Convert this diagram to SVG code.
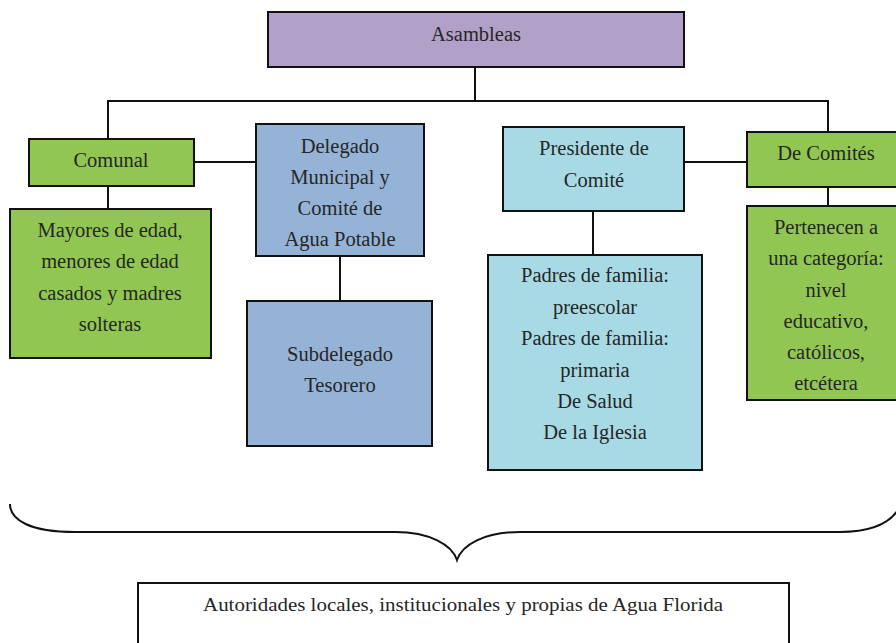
<svg xmlns="http://www.w3.org/2000/svg" width="896" height="643" viewBox="0 0 896 643" font-family="'Liberation Serif', 'DejaVu Serif', serif">
<style>
.box{stroke:#111;stroke-width:2}
.purple{fill:#b1a0c7}
.green{fill:#92c652}
.blue{fill:#95b3d7}
.lblue{fill:#a8dae6}
text{font-family:'Liberation Serif', serif}
.t{font-size:20.5px;fill:#262626;text-anchor:middle}
.con{stroke:#111;stroke-width:2;fill:none}
</style>
<defs>
<clipPath id="clipDel"><rect x="257" y="125" width="166" height="130"/></clipPath>
</defs>
<g id="connectors">
<line class="con" x1="475" y1="67" x2="475" y2="101"/>
<polyline class="con" points="108,139 108,101 828,101 828,132"/>
<line class="con" x1="194" y1="162" x2="256" y2="162"/>
<line class="con" x1="108" y1="186" x2="108" y2="209"/>
<line class="con" x1="340" y1="256" x2="340" y2="301"/>
<line class="con" x1="684" y1="162" x2="747" y2="162"/>
<line class="con" x1="593" y1="211" x2="593" y2="255"/>
<line class="con" x1="828" y1="187" x2="828" y2="206"/>
</g>
<g id="asambleas">
<rect class="box purple" x="268" y="12" width="416" height="55"/>
<text class="t" x="476" y="41" font-family="Liberation Serif">Asambleas</text>
</g>
<g id="comunal">
<rect class="box green" x="29" y="139" width="165" height="47"/>
<text class="t" x="111" y="167">Comunal</text>
</g>
<g id="mayores">
<rect class="box green" x="10" y="209" width="201" height="149"/>
<text class="t" x="110" y="237">Mayores de edad,</text>
<text class="t" x="110" y="268">menores de edad</text>
<text class="t" x="110" y="300">casados y madres</text>
<text class="t" x="110" y="331">solteras</text>
</g>
<g id="delegado">
<rect class="box blue" x="256" y="124" width="168" height="132"/>
<g clip-path="url(#clipDel)">
<text class="t" x="340" y="153">Delegado</text>
<text class="t" x="340" y="184">Municipal y</text>
<text class="t" x="340" y="215">Comité de</text>
<text class="t" x="340" y="246">Agua Potable</text>
</g>
</g>
<g id="subdelegado">
<rect class="box blue" x="247" y="301" width="185" height="145"/>
<text class="t" x="340" y="361">Subdelegado</text>
<text class="t" x="340" y="392">Tesorero</text>
</g>
<g id="presidente">
<rect class="box lblue" x="503" y="127" width="181" height="84"/>
<text class="t" x="594" y="155">Presidente de</text>
<text class="t" x="594" y="187">Comité</text>
</g>
<g id="padres">
<rect class="box lblue" x="488" y="255" width="214" height="215"/>
<text class="t" x="595" y="282">Padres de familia:</text>
<text class="t" x="595" y="314">preescolar</text>
<text class="t" x="595" y="345">Padres de familia:</text>
<text class="t" x="595" y="377">primaria</text>
<text class="t" x="595" y="408">De Salud</text>
<text class="t" x="595" y="439">De la Iglesia</text>
</g>
<g id="decomites">
<rect class="box green" x="747" y="132" width="160" height="55"/>
<text class="t" x="826" y="160">De Comités</text>
</g>
<g id="pertenecen">
<rect class="box green" x="747" y="206" width="160" height="194"/>
<text class="t" x="826" y="234">Pertenecen a</text>
<text class="t" x="826" y="265">una categoría:</text>
<text class="t" x="826" y="297">nivel</text>
<text class="t" x="826" y="328">educativo,</text>
<text class="t" x="826" y="359">católicos,</text>
<text class="t" x="826" y="390">etcétera</text>
</g>
<g id="brace">
<path class="con" d="M10,504 C10,520 30,532 75,532 L395,532 C430,532 452,545 457,560 C462,545 484,532 520,532 L840,532 C870,532 888,525 898,510"/>
</g>
<g id="autoridades">
<path class="box" fill="#fff" d="M138,650 L138,583 L789,583 L789,650"/>
<text class="t" x="463" y="611" font-size="19" style="font-size:19px" textLength="520" lengthAdjust="spacingAndGlyphs">Autoridades locales, institucionales y propias de Agua Florida</text>
</g>
</svg>
